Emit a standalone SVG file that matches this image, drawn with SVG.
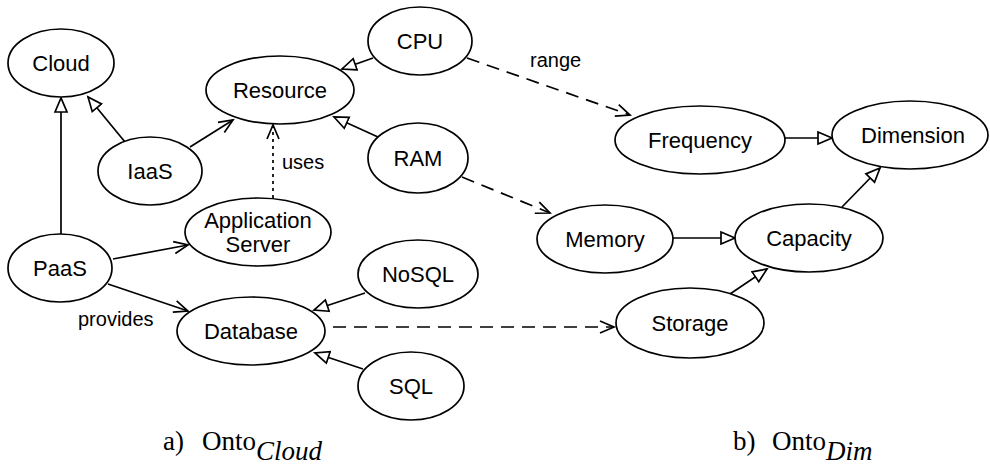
<svg xmlns="http://www.w3.org/2000/svg" width="990" height="467" viewBox="0 0 990 467">
<style>
.n ellipse{fill:#fff;stroke:#000;stroke-width:1.7}
.n text,.lbl{font-family:"Liberation Sans",Arial,Helvetica,sans-serif;font-size:22px;text-anchor:middle;fill:#000}
.lbl{font-size:20px;text-anchor:start}
.e line{stroke:#000;stroke-width:1.7;fill:none}
.sub{marker-end:url(#tri)}
.rel{marker-end:url(#open)}
.dash{stroke-dasharray:13 8}
.dot{stroke-dasharray:3 4}
.cap{font-family:"Liberation Serif","Times New Roman",serif;font-size:27px;fill:#000}
</style>
<defs>
<marker id="tri" markerUnits="userSpaceOnUse" markerWidth="18" markerHeight="16" refX="15" refY="7" orient="auto" viewBox="0 0 18 14">
<path d="M1,1 L15,7 L1,13 Z" fill="#fff" stroke="#000" stroke-width="1.7"/>
</marker>
<marker id="open" markerUnits="userSpaceOnUse" markerWidth="18" markerHeight="16" refX="15" refY="7" orient="auto" viewBox="0 0 18 14">
<path d="M1,1 L15,7 L1,13" fill="none" stroke="#000" stroke-width="1.7"/>
</marker>
</defs>
<g id="edges" class="e">
<line class="sub" x1="125" y1="142" x2="88" y2="97"/>
<line class="sub" x1="61" y1="234" x2="61" y2="98"/>
<line class="rel" x1="190" y1="147" x2="233" y2="120"/>
<line class="rel dot" x1="273" y1="198" x2="273" y2="125"/>
<line class="sub" x1="373" y1="58" x2="342" y2="69"/>
<line class="sub" x1="378" y1="137" x2="334" y2="117"/>
<line class="rel dash" x1="467" y1="58" x2="630" y2="115"/>
<line class="rel dash" x1="462" y1="177" x2="550" y2="213"/>
<line class="sub" x1="784" y1="138" x2="832" y2="138"/>
<line class="sub" x1="672" y1="238" x2="735" y2="238"/>
<line class="sub" x1="730" y1="294" x2="767" y2="269"/>
<line class="sub" x1="842" y1="207" x2="880" y2="168"/>
<line class="rel" x1="113" y1="259" x2="188" y2="245"/>
<line class="rel" x1="108" y1="284" x2="188" y2="311"/>
<line class="sub" x1="365" y1="293" x2="314" y2="310"/>
<line class="sub" x1="363" y1="369" x2="315" y2="353"/>
<line class="rel dash" x1="333" y1="327" x2="614" y2="327"/>
</g>
<text class="lbl" x="282" y="169">uses</text>
<text class="lbl" x="530" y="67">range</text>
<text class="lbl" x="78" y="326">provides</text>
<g id="Cloud" class="n"><ellipse cx="61" cy="63" rx="53" ry="34"/><text x="61" y="71">Cloud</text></g>
<g id="Resource" class="n"><ellipse cx="280" cy="90" rx="74" ry="34"/><text x="280" y="98">Resource</text></g>
<g id="IaaS" class="n"><ellipse cx="150" cy="171" rx="52" ry="34"/><text x="150" y="179">IaaS</text></g>
<g id="CPU" class="n"><ellipse cx="420" cy="41" rx="52" ry="34"/><text x="420" y="49">CPU</text></g>
<g id="RAM" class="n"><ellipse cx="418" cy="158" rx="50" ry="35"/><text x="418" y="166">RAM</text></g>
<g id="Frequency" class="n"><ellipse cx="700" cy="140" rx="85" ry="34"/><text x="700" y="148">Frequency</text></g>
<g id="Dimension" class="n"><ellipse cx="910" cy="135" rx="78" ry="34"/><text x="913" y="143">Dimension</text></g>
<g id="ApplicationServer" class="n"><ellipse cx="258" cy="232" rx="73" ry="34"/><text x="258" y="228">Application</text><text x="258" y="252">Server</text></g>
<g id="Memory" class="n"><ellipse cx="605" cy="239" rx="68" ry="34"/><text x="605" y="247">Memory</text></g>
<g id="Capacity" class="n"><ellipse cx="809" cy="238" rx="74" ry="34"/><text x="809" y="246">Capacity</text></g>
<g id="PaaS" class="n"><ellipse cx="60" cy="268" rx="52" ry="34"/><text x="60" y="276">PaaS</text></g>
<g id="NoSQL" class="n"><ellipse cx="418" cy="274" rx="60" ry="34"/><text x="418" y="282">NoSQL</text></g>
<g id="Database" class="n"><ellipse cx="251" cy="331" rx="74" ry="34"/><text x="251" y="339">Database</text></g>
<g id="Storage" class="n"><ellipse cx="690" cy="323" rx="74" ry="35"/><text x="690" y="331">Storage</text></g>
<g id="SQL" class="n"><ellipse cx="411" cy="386" rx="53" ry="34"/><text x="411" y="394">SQL</text></g>
<text class="cap" x="163" y="450">a)<tspan x="202">Onto</tspan><tspan font-style="italic" dy="10">Cloud</tspan></text>
<text class="cap" x="733" y="450">b)<tspan x="772">Onto</tspan><tspan font-style="italic" dy="10">Dim</tspan></text>
</svg>
